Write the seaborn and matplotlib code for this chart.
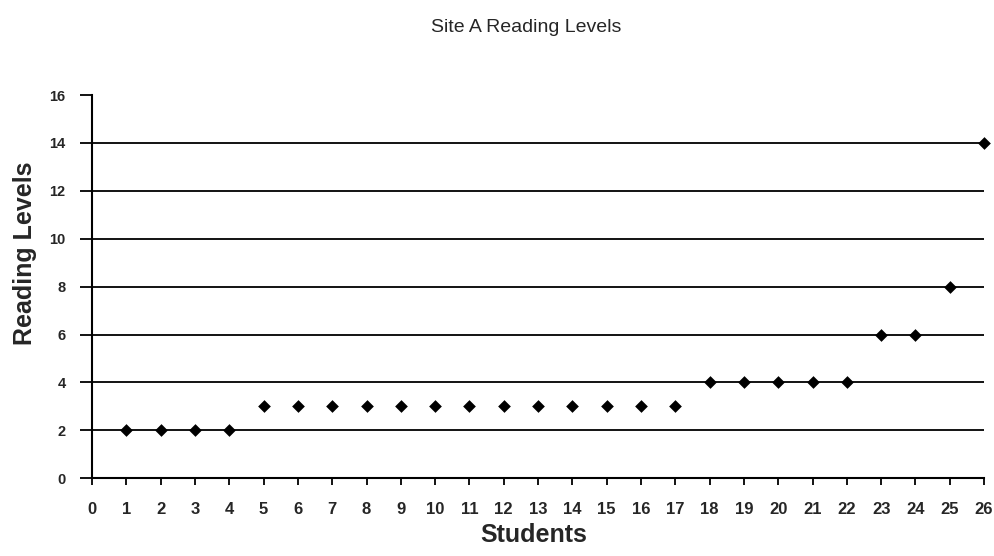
import numpy as np
import pandas as pd
import matplotlib.pyplot as plt
import seaborn as sns

students = list(range(1, 27))
levels = [2, 2, 2, 2,
          3, 3, 3, 3, 3, 3, 3, 3, 3, 3, 3, 3, 3,
          4, 4, 4, 4, 4,
          6, 6, 8, 14]

df = pd.DataFrame({'Students': students, 'Reading Levels': levels})

sns.set_style('white')
plt.rcParams['font.family'] = ['Liberation Sans', 'DejaVu Sans']

fig = plt.figure(figsize=(9.94, 5.56), dpi=100)
ax = fig.add_axes([0.0926, 0.140, 0.8974, 0.689])

# horizontal gridlines
for yv in range(2, 16, 2):
    ax.axhline(yv, color='black', lw=1.3, zorder=1)

sns.scatterplot(data=df, x='Students', y='Reading Levels', marker='D',
                color='black', s=42, edgecolor='black', linewidth=0,
                ax=ax, zorder=3, clip_on=False)

ax.set_xlim(0, 26)
ax.set_ylim(0, 16)
ax.set_xticks(range(0, 27))
ax.set_yticks(range(0, 17, 2))
for lab in ax.get_xticklabels():
    lab.set_fontweight('bold')
    lab.set_fontsize(12)
for lab in ax.get_yticklabels():
    lab.set_fontweight('bold')
    lab.set_fontsize(10.5)
ax.tick_params(axis='x', bottom=True, direction='out', length=5, width=1.3, pad=12, color='black')
ax.tick_params(axis='y', left=True, direction='out', length=9, width=1.3, pad=10, color='black')

sns.despine(ax=ax)
for side in ['left', 'bottom']:
    ax.spines[side].set_color('black')
    ax.spines[side].set_linewidth(1.5)

ax.set_xlabel('')
ax.set_ylabel('')
fig.text(0.537, 0.016, 'Students', ha='center', va='bottom', fontsize=18, fontweight='bold')
fig.text(0.025, 0.545, 'Reading Levels', ha='center', va='center', rotation=90,
         fontsize=18, fontweight='bold')
fig.text(0.529, 0.951, 'Site A Reading Levels', ha='center', va='center', fontsize=14)

fig.savefig('out.png', dpi=100)
